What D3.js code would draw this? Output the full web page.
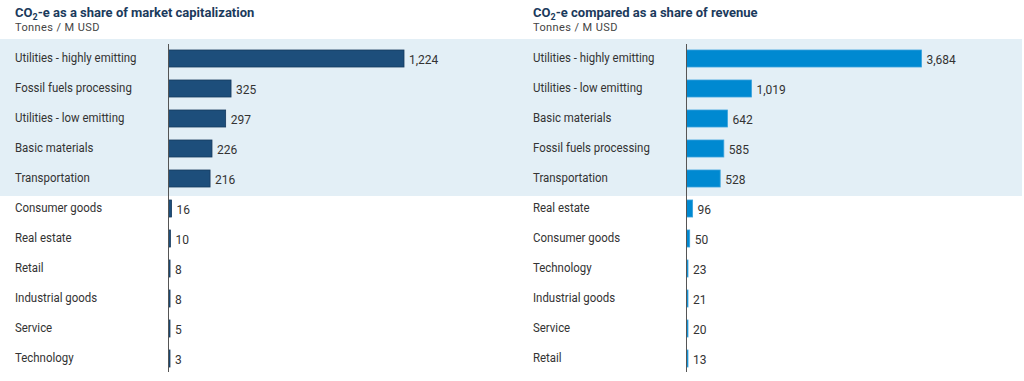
<!DOCTYPE html>
<html><head><meta charset="utf-8">
<script src="https://cdn.jsdelivr.net/npm/d3@7"></script>
<style>body{margin:0;background:#fff;} text{font-family:Roboto,"Noto Sans",sans-serif;}</style>
</head><body>
<svg id="c" width="1024" height="381"></svg>
<script>
const capCategories = ["Utilities - highly emitting","Fossil fuels processing","Utilities - low emitting","Basic materials","Transportation","Consumer goods","Real estate","Retail","Industrial goods","Service","Technology"];
const capValues = [1224,325,297,226,216,16,10,8,8,5,3];
const revCategories = ["Utilities - highly emitting","Utilities - low emitting","Basic materials","Fossil fuels processing","Transportation","Real estate","Consumer goods","Technology","Industrial goods","Service","Retail"];
const revValues = [3684,1019,642,585,528,96,50,23,21,20,13];
const titles = ["as a share of market capitalization","compared as a share of revenue"];
const subtitle = "Tonnes / M USD";
const highlightCount = 5;

const svg = d3.select("#c");
const fmt = d3.format(",");

// highlight band
const yTmp = d3.scaleBand().domain(capCategories).range([43.5,373.5]).paddingInner(0.433).paddingOuter(0.2165);
svg.append("rect").attr("x",0).attr("width",1022)
  .attr("y", yTmp(capCategories[0]) - 11)
  .attr("height", yTmp(capCategories[highlightCount-1]) + yTmp.bandwidth() + 9 - (yTmp(capCategories[0]) - 11))
  .attr("fill","#e3eff6");

function panel(x0, axisX, barMax, cats, vals, title, fill, stroke) {
  const g = svg.append("g");
  const t = g.append("text").attr("x",x0).attr("y",17).attr("font-size",13).attr("font-weight","bold").attr("fill","#1b3a5c");
  t.append("tspan").text("CO");
  t.append("tspan").attr("font-size",9).attr("dy",3).text("2");
  t.append("tspan").attr("dy",-3).text("-e " + title);
  g.append("text").attr("x",x0).attr("y",31).attr("font-size",11).attr("letter-spacing",0.4).attr("fill","#444").text(subtitle);

  const y = d3.scaleBand().domain(cats).range([43.5,373.5]).paddingInner(0.433).paddingOuter(0.2165);
  const x = d3.scaleLinear().domain([0, d3.max(vals)]).range([axisX, barMax]);

  g.selectAll("text.cat").data(cats).join("text").attr("class","cat")
    .attr("transform",d=>`translate(${x0},${y(d)+y.bandwidth()/2-1}) scale(0.88,1)`)
    .attr("dy","0.35em")
    .attr("font-size",13).attr("fill","#333").text(d=>d);

  g.selectAll("rect.bar").data(vals).join("rect").attr("class","bar")
    .attr("x",axisX).attr("y",(d,i)=>y(cats[i]))
    .attr("width",d=>Math.max(x(d)-axisX,1.5)).attr("height",y.bandwidth())
    .attr("fill",fill).attr("stroke",stroke).attr("stroke-width",0.8);

  g.selectAll("text.val").data(vals).join("text").attr("class","val")
    .attr("x",d=>Math.max(x(d),axisX+1.5)+5).attr("y",(d,i)=>y(cats[i])+y.bandwidth()/2+1).attr("dy","0.35em")
    .attr("font-size",12).attr("fill","#333").text(d=>fmt(d));

  g.append("line").attr("x1",axisX).attr("x2",axisX).attr("y1",44).attr("y2",372)
    .attr("stroke","#555").attr("stroke-width",1);
}

panel(15, 168.5, 404, capCategories, capValues, titles[0], "#1d4e7b", "#163a5e");
panel(533, 686.5, 921.5, revCategories, revValues, titles[1], "#0089d1", "#3aa3dc");
</script>
</body></html>
